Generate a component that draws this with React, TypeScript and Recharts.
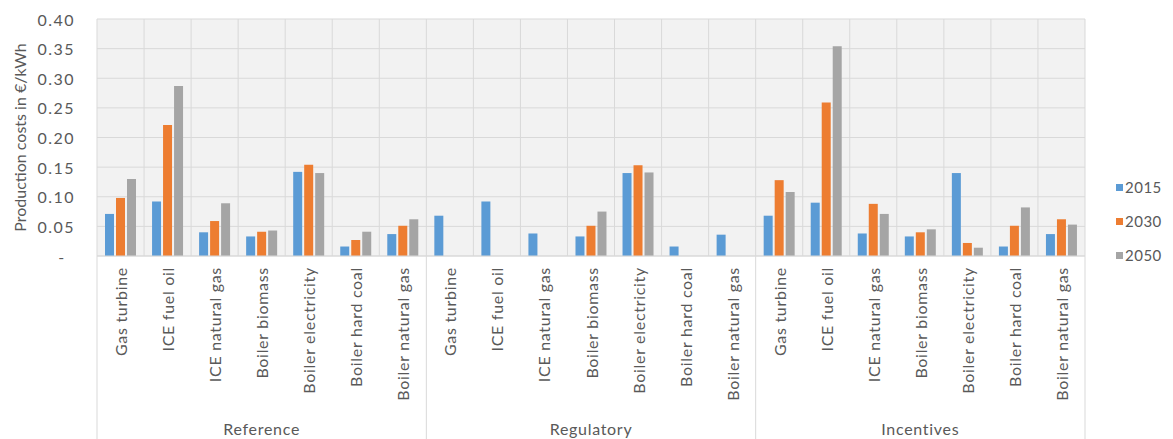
import React from 'react';
import { BarChart, Bar, XAxis, YAxis, CartesianGrid, Legend } from 'recharts';

const scenarios = ['Reference', 'Regulatory', 'Incentives'];
const technologies = [
  'Gas turbine',
  'ICE fuel oil',
  'ICE natural gas',
  'Boiler biomass',
  'Boiler electricity',
  'Boiler hard coal',
  'Boiler natural gas',
];
const seriesNames = ['2015', '2030', '2050'];
const seriesColors = ['#5B9BD5', '#ED7D31', '#A5A5A5'];

// values per scenario, in technology order
const values2015 = [
  0.071, 0.092, 0.040, 0.033, 0.142, 0.016, 0.037,
  0.068, 0.092, 0.038, 0.033, 0.140, 0.016, 0.036,
  0.068, 0.090, 0.038, 0.033, 0.140, 0.016, 0.037,
];
const values2030 = [
  0.098, 0.221, 0.059, 0.041, 0.154, 0.027, 0.051,
  null, null, null, 0.051, 0.153, null, null,
  0.128, 0.259, 0.088, 0.040, 0.022, 0.051, 0.062,
];
const values2050 = [
  0.130, 0.287, 0.089, 0.043, 0.140, 0.041, 0.062,
  null, null, null, 0.075, 0.141, null, null,
  0.108, 0.354, 0.071, 0.045, 0.014, 0.082, 0.053,
];
const yTicks = [0, 0.05, 0.1, 0.15, 0.2, 0.25, 0.3, 0.35, 0.4];

const data = scenarios.flatMap((sc, si) =>
  technologies.map((tech, ti) => {
    const i = si * technologies.length + ti;
    return {
      key: `${sc}-${tech}`,
      scenario: sc,
      tech,
      y2015: values2015[i],
      y2030: values2030[i],
      y2050: values2050[i],
    };
  })
);
const seriesKeys = ['y2015', 'y2030', 'y2050'];

const FONT = 'Lato, "Liberation Sans", sans-serif';
const TEXT = '#595959';
const GRID = '#d9d9d9';

const CHART_W = 1165;
const CHART_H = 431;
const MARGIN = { top: 11, right: 28, bottom: 0, left: 0 };
const Y_W = 89;
const X_H = 183;
const LEGEND_W = 60;
const PLOT_W = CHART_W - MARGIN.left - MARGIN.right - Y_W - LEGEND_W;

const XTick = (props: any) => {
  const { x, y, payload, index } = props;
  const n = technologies.length;
  const bw = PLOT_W / data.length;
  const item = data[index];
  const axisY = y - 8;
  return (
    <g>
      <text
        transform={`translate(${x},${axisY + 11}) rotate(-90)`}
        textAnchor="end"
        dominantBaseline="central"
        fontSize={16}
        letterSpacing={0.7}
        fontFamily={FONT}
        fill={TEXT}
      >
        {item ? item.tech : payload.value}
      </text>
      {index % n === 0 && (
        <line x1={x - bw / 2} x2={x - bw / 2} y1={axisY} y2={CHART_H} stroke={GRID} />
      )}
      {index === data.length - 1 && (
        <line x1={x + bw / 2} x2={x + bw / 2} y1={axisY} y2={CHART_H} stroke={GRID} />
      )}
      {index % n === Math.floor(n / 2) && (
        <text
          x={x}
          y={axisY + 172}
          textAnchor="middle"
          dominantBaseline="central"
          fontSize={16}
          letterSpacing={0.7}
          fontFamily={FONT}
          fill={TEXT}
        >
          {item ? item.scenario : ''}
        </text>
      )}
    </g>
  );
};

const YTick = (props: any) => {
  const { x, y, payload } = props;
  const v = payload.value;
  return (
    <text
      x={v === 0 ? x - 13 : x}
      y={y}
      textAnchor={v === 0 ? 'middle' : 'end'}
      dominantBaseline="central"
      fontSize={16}
      letterSpacing={1.5}
      fontFamily={FONT}
      fill={TEXT}
    >
      {v === 0 ? '-' : v.toFixed(2)}
    </text>
  );
};

const YLabel = (props: any) => {
  const vb = props.viewBox || { x: 0, y: 0, width: 0, height: 0 };
  const cx = vb.x + 11;
  const cy = vb.y + vb.height / 2;
  return (
    <text
      x={cx}
      y={cy}
      transform={`rotate(-90 ${cx} ${cy})`}
      textAnchor="middle"
      dominantBaseline="central"
      fontSize={16}
      fontFamily={FONT}
      fill={TEXT}
    >
      Production costs in €/kWh
    </text>
  );
};

const LegendContent = () => (
  <div style={{ fontFamily: FONT, fontSize: 15, color: TEXT, width: LEGEND_W, letterSpacing: 0.5 }}>
    {seriesNames.map((name, i) => (
      <div key={name} style={{ display: 'flex', alignItems: 'center', height: 34 }}>
        <span
          style={{
            display: 'inline-block',
            width: 7,
            height: 7,
            background: seriesColors[i],
            marginRight: 2,
          }}
        />
        <span>{name}</span>
      </div>
    ))}
  </div>
);

export default function App() {
  return (
    <div style={{ width: CHART_W, height: CHART_H, background: '#fff' }}>
      <BarChart
        width={CHART_W}
        height={CHART_H}
        data={data}
        margin={MARGIN}
        barSize={9}
        barGap={2}
      >
        <CartesianGrid
          fill="#f2f2f2"
          stroke={GRID}
          horizontal={true}
          vertical={true}
          verticalCoordinatesGenerator={({ offset }: any) => {
            const arr: number[] = [];
            for (let i = 0; i <= data.length; i++) {
              arr.push(offset.left + (i * offset.width) / data.length);
            }
            return arr;
          }}
        />
        <XAxis
          dataKey="key"
          interval={0}
          height={X_H}
          tickLine={false}
          axisLine={{ stroke: GRID }}
          tick={<XTick />}
        />
        <YAxis
          width={Y_W}
          domain={[0, 0.4]}
          ticks={yTicks}
          tickLine={false}
          axisLine={false}
          tickMargin={16}
          tick={<YTick />}
          label={<YLabel />}
        />
        <Legend
          layout="vertical"
          align="right"
          verticalAlign="middle"
          content={<LegendContent />}
          wrapperStyle={{ left: 1108, top: 162, width: LEGEND_W }}
        />
        {seriesKeys.map((k, i) => (
          <Bar
            key={k}
            dataKey={k}
            name={seriesNames[i]}
            fill={seriesColors[i]}
            isAnimationActive={false}
          />
        ))}
      </BarChart>
    </div>
  );
}
